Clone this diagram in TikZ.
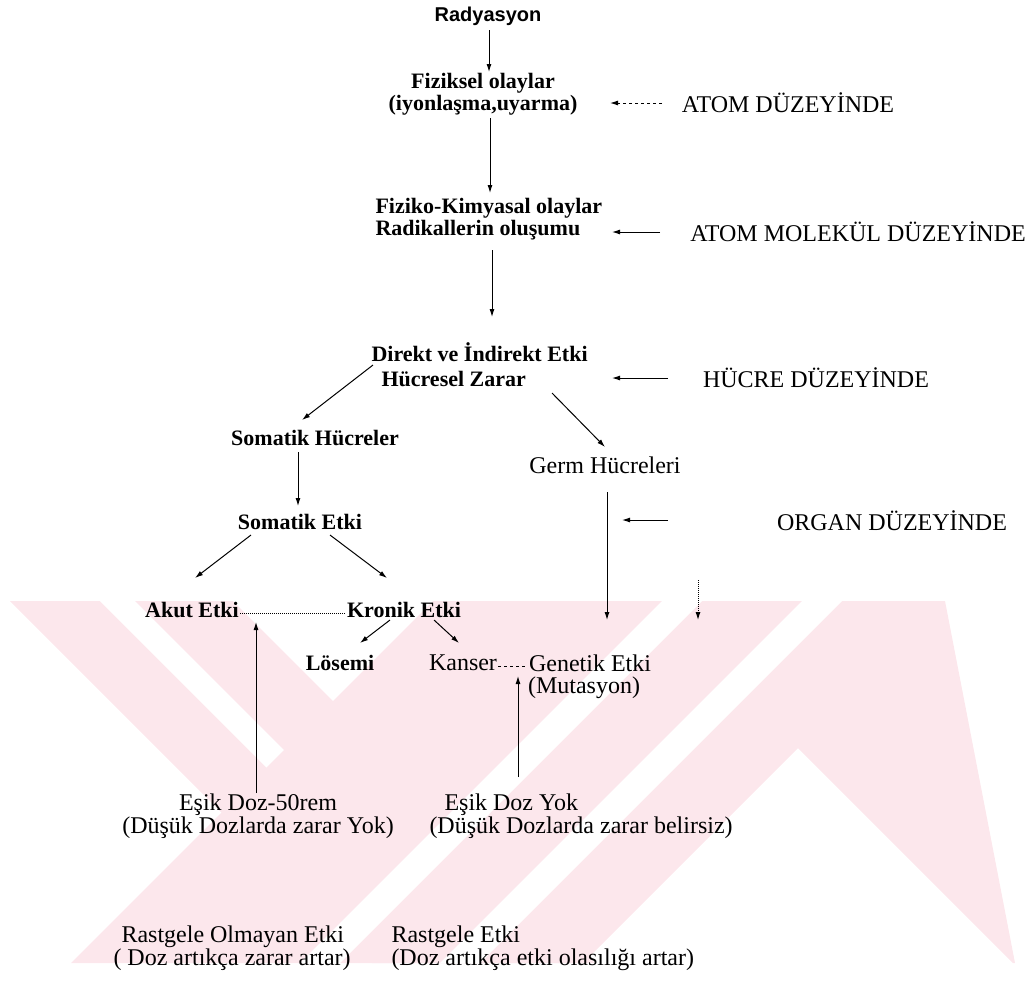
\documentclass[tikz,border=0pt]{standalone}
\usepackage{fontspec}
\setmainfont{Liberation Serif}
\newfontfamily\radfont{Liberation Sans}
\usepackage{tikz}
\usetikzlibrary{positioning, arrows.meta, calc}
\definecolor{yok_pink}{RGB}{252,231,236}

\begin{document}
\begin{tikzpicture}[x=1pt, y=-1pt, >={Latex[length=8pt,width=5pt]}, line width=1pt,
      flow/.style ={font=\fontsize{22}{22}\selectfont\bfseries, align=center, inner sep=1pt},
      plain/.style={font=\fontsize{24}{23}\selectfont, align=center, inner sep=1pt},
      lvl/.style  ={font=\fontsize{24}{24}\selectfont, inner sep=1pt}]
    \useasboundingbox (0,0) rectangle (1035,989);
    % --- background mark (pale, behind everything) ---
    \fill[yok_pink] (10,601) -- (233,601) -- (595,963) -- (372,963) -- cycle;
    \fill[white] (100,601) -- (135,601) -- (497,963) -- (462,963) -- cycle;
    \fill[yok_pink] (651,601) -- (945,601) -- (1015,963) -- (1013,963) -- cycle;
    \fill[yok_pink] (433,601) -- (945,601) -- (583,963) -- (71,963) -- cycle;
    \fill[white] (662,601) -- (702,601) -- (340,963) -- (300,963) -- cycle;
    \fill[white] (802,601) -- (842,601) -- (480,963) -- (440,963) -- cycle;
    % --- TOP: from radiation down to the cell ---
    \node[font=\radfont\bfseries\fontsize{20}{20}\selectfont, inner sep=1pt] (rad) at (488,16) {Radyasyon};
    \node[flow] (fiz) at (483,94) {Fiziksel olaylar\\(iyonlaşma,uyarma)};
    \node[flow, align=left, anchor=west] (fk) at (374,219) {Fiziko-Kimyasal olaylar\\Radikallerin oluşumu};
    \node[flow, align=left, anchor=west, font=\fontsize{22}{25}\selectfont\bfseries] (cell) at (370,365)
      {Direkt ve İndirekt Etki\\\hspace*{10pt}Hücresel Zarar};
    \draw[->] ($(rad)+(1,14)$) -- ($(rad)+(1,56)$);
    \draw[->] ($(fiz)+(7,24)$) -- ($(fk.west)+(116,-26)$);
    \draw[->] ($(fk.west)+(118,31)$) -- ($(cell.west)+(122,-48)$);
    % --- RIGHT: the levels ---
    \node[lvl] (l1) at (788,103) {ATOM DÜZEYİNDE};
    \node[lvl] (l2) at (858,232) {ATOM MOLEKÜL DÜZEYİNDE};
    \node[lvl] (l3) at (816,378) {HÜCRE DÜZEYİNDE};
    \node[lvl] (l4) at (892,521) {ORGAN DÜZEYİNDE};
    \draw[->, dashed] ($(l1)+(-126,0)$) -- ($(fiz)+(127,9)$);
    \draw[->] ($(l2)+(-198,0)$) -- ($(fk.west)+(238,13)$);
    \draw[->] ($(l3)+(-148,0)$) -- ($(cell.west)+(242,13)$);
    % --- MIDDLE: somatic and germ cells ---
    \node[flow] (sh) at (315,438) {Somatik Hücreler};
    \node[plain] (germ) at (605,465) {Germ Hücreleri};
    \node[flow] (se) at (300,522) {Somatik Etki};
    \draw[->] ($(cell.west)+(3,0)$) -- ($(sh)+(-13,-18)$);
    \draw[->] ($(cell.west)+(182,28)$) -- ($(germ)+(0,-18)$);
    \draw[->] ($(sh)+(-17,14)$) -- ($(se)+(-2,-16)$);
    \draw[->] ($(l4)+(-224,-1)$) -- ($(germ)+(17,55)$);
    \coordinate (stray) at (698,580);
    \draw[->, densely dotted] (stray) -- ++(0,40);
    % --- effects ---
    \node[flow] (akut) at (192,610) {Akut Etki};
    \node[flow] (kronik) at (404,610) {Kronik Etki};
    \node[flow] (los) at (340,663) {Lösemi};
    \node[plain] (kanser) at (463,663) {Kanser};
    \node[plain] (genetik) at (590,663) {Genetik Etki};
    \node[plain] (mut) at (584,688) {(Mutasyon)};
    \draw[->] ($(se)+(-49,13)$) -- ($(akut)+(3,-32)$);
    \draw[->] ($(se)+(30,13)$) -- ($(kronik)+(-17,-32)$);
    \draw[densely dotted] ($(akut.east)+(0,3)$) -- ($(kronik.west)+(0,3)$);
    \draw[->] ($(kronik)+(-14,10)$) -- ($(los)+(20,-20)$);
    \draw[->] ($(kronik)+(30,10)$) -- ($(kanser)+(-4,-20)$);
    \draw[dashed] ($(kanser.east)+(0,3)$) -- ($(genetik.west)+(0,3)$);
    \draw[->] ($(germ)+(2,27)$) -- ($(genetik)+(17,-43)$);
    % --- BOTTOM: threshold and randomness ---
    \node[plain] (esik1) at (258,816) {Eşik Doz-50rem\\(Düşük Dozlarda zarar Yok)};
    \node[plain, align=left, anchor=west] (esik2) at (428,816)
      {\hspace*{15pt}Eşik Doz Yok\\(Düşük Dozlarda zarar belirsiz)};
    \draw[->] ($(esik1)+(-2,-23)$) -- ($(akut)+(64,12)$);
    \draw[->] ($(esik2.west)+(90,-39)$) -- ($(genetik)+(-72,13)$);
    \node[plain, align=left, anchor=west] (rast1) at (112,948)
      {\hspace*{8pt}Rastgele Olmayan Etki\\( Doz artıkça zarar artar)};
    \node[plain, align=left, anchor=west] (rast2) at (390,948)
      {Rastgele Etki\\(Doz artıkça etki olasılığı artar)};
\end{tikzpicture}
\end{document}
